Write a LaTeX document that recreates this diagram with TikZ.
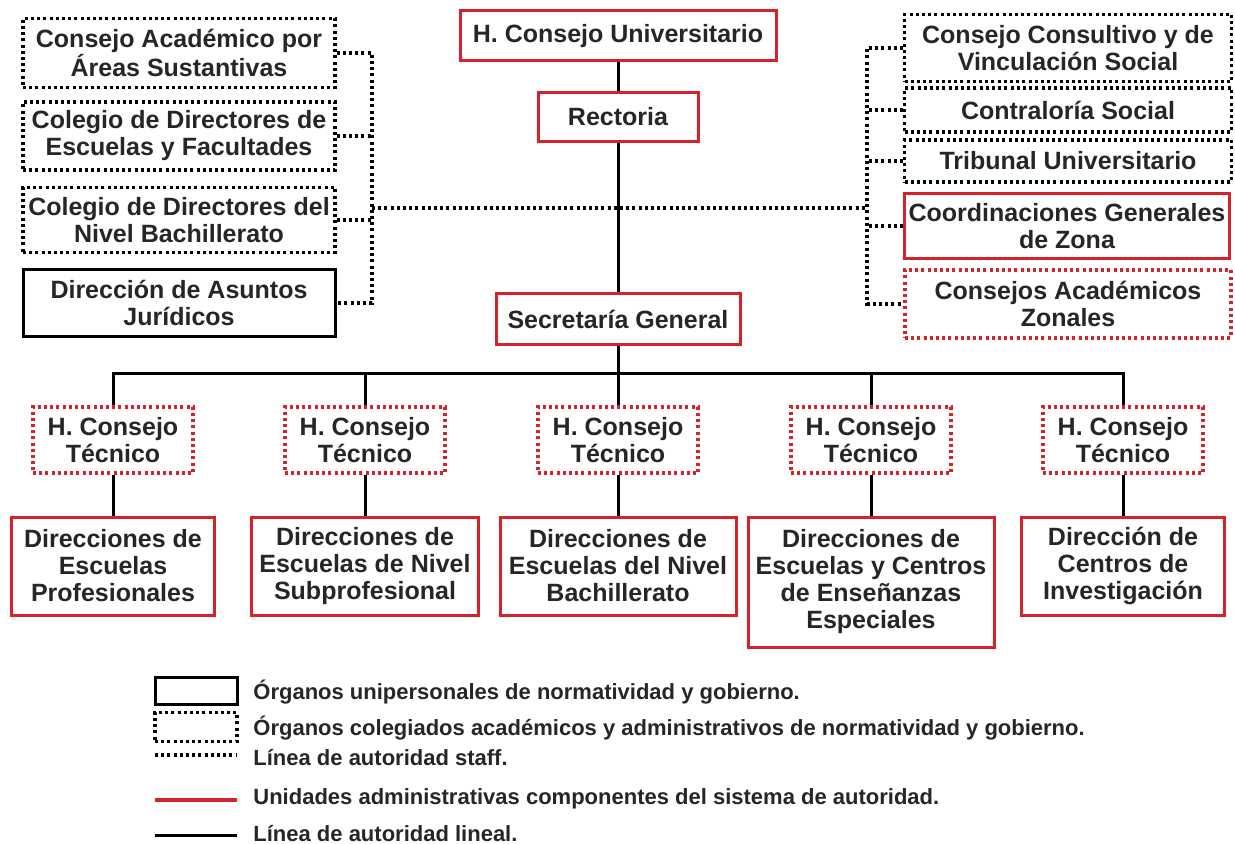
\documentclass[tikz,border=0pt]{standalone}
\usepackage{fontspec}
\setmainfont{Liberation Sans}
\usepackage{xcolor}
\definecolor{unitred}{RGB}{212,36,42}
\definecolor{textgray}{RGB}{38,38,38}

\begin{document}
\begin{tikzpicture}[x=0.5pt,y=-0.5pt]
			\tikzstyle{box} = [rectangle,fill=white,draw=unitred,line width=1.5pt,inner sep=0pt,align=center,text=textgray,font=\bfseries\fontsize{12.5}{13.5}\selectfont]
			\tikzstyle{box2} = [box,draw=black,line width=1.6pt,dash pattern=on 1.5pt off 1.6pt]
			\tikzstyle{box3} = [box2,draw=unitred]
			\tikzstyle{box4} = [box,draw=black]
			\tikzstyle{legend} = [anchor=west,inner sep=0pt,text=textgray,font=\bfseries\fontsize{11}{12}\selectfont]
			\tikzstyle{edge} = [-,line width=1.5pt,draw=black]
			\tikzstyle{edge2} = [-,line width=1.6pt,dash pattern=on 1.5pt off 1.6pt,draw=black]
			\tikzstyle{edge3} = [-,line width=1.8pt,draw=unitred]
			\useasboundingbox (0,0) rectangle (1235,844);
			% centre column
			\node[box,minimum width=158pt,minimum height=25pt] (n1) at (618,36) {H. Consejo Universitario};
			\node[box,minimum width=80pt,minimum height=24.5pt] (n2) at (618,117) {Rectoria};
			\node[box,minimum width=122pt,minimum height=25pt] (n3) at (618,319) {Secretaría General};
			% left staff
			\node[box2,minimum width=156pt,minimum height=34.5pt] (n4) at (179,53) {Consejo Académico por\\Áreas Sustantivas};
			\node[box2,minimum width=156pt,minimum height=34pt] (n5) at (179,136) {Colegio de Directores de\\Escuelas y Facultades};
			\node[box2,minimum width=156pt,minimum height=32.5pt] (n6) at (179,220) {Colegio de Directores del\\Nivel Bachillerato};
			\node[box4,minimum width=156pt,minimum height=33.5pt] (n7) at (179,303) {Dirección de Asuntos\\Jurídicos};
			% right staff
			\node[box2,minimum width=163.5pt,minimum height=33.5pt] (n8) at (1068,48) {Consejo Consultivo y de\\Vinculación Social};
			\node[box2,minimum width=163.5pt,minimum height=22pt] (n9) at (1068,110) {Contraloría Social};
			\node[box2,minimum width=163.5pt,minimum height=21pt] (n10) at (1068,161) {Tribunal Universitario};
			\node[box,minimum width=162.5pt,minimum height=32.5pt] (n11) at (1067,226) {Coordinaciones Generales\\de Zona};
			\node[box3,minimum width=163pt,minimum height=34pt] (n12) at (1068,304) {Consejos Académicos\\Zonales};
			% consejos tecnicos
			\node[box3,minimum width=80pt,minimum height=33pt] (n13) at (113,440) {H. Consejo\\Técnico};
			\node[box3,minimum width=80pt,minimum height=33pt] (n14) at (365,440) {H. Consejo\\Técnico};
			\node[box3,minimum width=80pt,minimum height=33pt] (n15) at (618,440) {H. Consejo\\Técnico};
			\node[box3,minimum width=80pt,minimum height=33pt] (n16) at (871,440) {H. Consejo\\Técnico};
			\node[box3,minimum width=80pt,minimum height=33pt] (n17) at (1123,440) {H. Consejo\\Técnico};
			% direcciones
			\node[box,minimum width=101.5pt,minimum height=49pt] (n18) at (113,566) {Direcciones de\\Escuelas\\Profesionales};
			\node[box,minimum width=113.5pt,minimum height=49pt] (n19) at (365,566) {Direcciones de\\Escuelas de Nivel\\Subprofesional};
			\node[box,minimum width=118pt,minimum height=49pt] (n20) at (618,566) {Direcciones de\\Escuelas del Nivel\\Bachillerato};
			\node[box,minimum width=123pt,minimum height=65pt] (n21) at (871,582) {Direcciones de\\Escuelas y Centros\\de Enseñanzas\\Especiales};
			\node[box,minimum width=101.5pt,minimum height=49pt] (n22) at (1123,566) {Dirección de\\Centros de\\Investigación};
			\coordinate (c1) at (372,208);
			\coordinate (c2) at (867,208);
			\coordinate (c3) at (618,373);
			% staff lines
			\draw[edge2] (c1)--(c2);
			\draw[edge2] (n4.east)--(n4.east -| c1)--(n7.east -| c1)--(n7.east);
			\draw[edge2] (n5.east)--(n5.east -| c1);
			\draw[edge2] (n6.east)--(n6.east -| c1);
			\draw[edge2] (n8.west)--(n8.west -| c2)--(n12.west -| c2)--(n12.west);
			\draw[edge2] (n9.west)--(n9.west -| c2);
			\draw[edge2] (n10.west)--(n10.west -| c2);
			\draw[edge2] (n11.west)--(n11.west -| c2);
			% lineal
			\draw[edge] (n1)--(n2);
			\draw[edge] (n2)--(n3);
			\draw[edge] (n3)--(n15);
			\draw[edge] (n13.north) |- (c3) -| (n17.north);
			\draw[edge] (n14.north)--(n14.north |- c3);
			\draw[edge] (n16.north)--(n16.north |- c3);
			\draw[edge] (n13)--(n18);
			\draw[edge] (n14)--(n19);
			\draw[edge] (n15)--(n20);
			\draw[edge] (n16)--(n21);
			\draw[edge] (n17)--(n22);
			% legend
			\node[box4,minimum width=41pt,minimum height=13.5pt] (n23) at (196,691) {};
			\node[box2,minimum width=41pt,minimum height=14.5pt] (n24) at (196,727) {};
			\coordinate (c4) at (155,755);
			\coordinate (c5) at (237,755);
			\coordinate (c6) at (155,800);
			\coordinate (c7) at (237,800);
			\coordinate (c8) at (155,835);
			\coordinate (c9) at (237,835);
			\draw[edge2] (c4)--(c5);
			\draw[edge3] (c6)--(c7);
			\draw[edge] (c8)--(c9);
			\node[legend] (n25) at (253,692) {Órganos unipersonales de normatividad y gobierno.};
			\node[legend] (n26) at (253,728) {Órganos colegiados académicos y administrativos de normatividad y gobierno.};
			\node[legend] (n27) at (253,758) {Línea de autoridad staff.};
			\node[legend] (n28) at (253,799) {Unidades administrativas componentes del sistema de autoridad.};
			\node[legend] (n29) at (253,834) {Línea de autoridad lineal.};
\end{tikzpicture}
\end{document}
